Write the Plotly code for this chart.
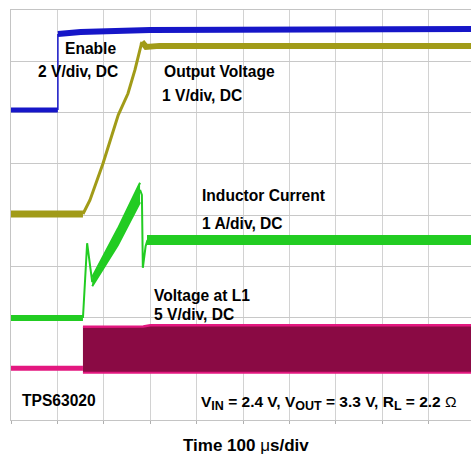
import plotly.graph_objects as go

# ---- data (time in microseconds, 100 us/div) ----
# Enable, 2 V/div
en_low_t = [0, 101]
en_low_v = [0.0, 0.0]
en_edge_t = [101, 101]
en_edge_v = [0.0, 2.96]
en_high_t = [101, 150, 300, 600, 991]
en_high_v = [2.96, 3.04, 3.12, 3.15, 3.16]

# Output voltage, 1 V/div
vo_low_t = [0, 155]
vo_low_v = [0.0, 0.0]
vo_ramp_t = [155, 170, 198, 231, 252, 267, 282]
vo_ramp_v = [0.0, 0.27, 0.98, 1.93, 2.35, 2.81, 3.36]
vo_high_t = [282, 291, 320, 600, 991]
vo_high_v = [3.36, 3.26, 3.28, 3.28, 3.28]

# Inductor current, 1 A/div
il_base_t = [0, 155]
il_base_a = [0.0, 0.0]
il_spike_t = [155, 164, 175]
il_spike_a = [0.0, 1.46, 0.70]
il_ramp_t = [175, 230, 278]
il_ramp_hi = [0.80, 1.74, 2.64]
il_ramp_lo = [0.62, 1.42, 2.26]
il_drop_t = [278, 282, 284, 290, 294]
il_drop_a = [2.50, 2.40, 0.98, 1.40, 1.52]
il_ss_t = [293, 600, 991]
il_ss_a = [1.52, 1.52, 1.52]

# Voltage at L1, 5 V/div
vl_base_t = [0, 155]
vl_base_v = [0.0, 0.0]
vl_sw_t = [155, 285, 300, 991]
vl_sw_hi = [4.05, 4.07, 4.2, 4.2]
vl_sw_lo = [-0.45, -0.45, -0.45, -0.45]

# scope settings: channel ground marker (divisions from bottom) and units per division
ch_zero = {"en": 6.05, "vo": 4.02, "il": 1.99, "vl": 1.01}
ch_scale = {"en": 2.0, "vo": 1.0, "il": 1.0, "vl": 5.0}

N_DIV_Y = 8
X_MAX = 991  # visible part of the 10-division time base

BLUE = "#1616c8"
OLIVE = "#a19b18"
GREEN = "#22cc22"
MAROON = "#8a0a44"
PINK = "#e3177f"


def to_div(values, ch):
    """Scope vertical mapping: channel units -> screen divisions."""
    return [ch_zero[ch] + v / ch_scale[ch] for v in values]


fig = go.Figure()


def line(x, y, ch, color, width, **kw):
    fig.add_trace(go.Scatter(x=x, y=to_div(y, ch), mode="lines",
                             line=dict(color=color, width=width),
                             showlegend=False, hoverinfo="skip", **kw))


# Voltage at L1
line(vl_sw_t, vl_sw_lo, "vl", PINK, 2)
line(vl_sw_t, vl_sw_hi, "vl", PINK, 2.5, fill="tonexty", fillcolor=MAROON)
line(vl_base_t, vl_base_v, "vl", PINK, 5)

# Inductor current
line(il_base_t, il_base_a, "il", GREEN, 6)
line(il_spike_t, il_spike_a, "il", GREEN, 2)
line(il_ramp_t, il_ramp_lo, "il", GREEN, 2)
line(il_ramp_t, il_ramp_hi, "il", GREEN, 2, fill="tonexty", fillcolor=GREEN)
line(il_drop_t, il_drop_a, "il", GREEN, 2)
line(il_ss_t, il_ss_a, "il", GREEN, 10)

# Output voltage
line(vo_low_t, vo_low_v, "vo", OLIVE, 7)
line(vo_ramp_t, vo_ramp_v, "vo", OLIVE, 3)
line(vo_high_t, vo_high_v, "vo", OLIVE, 6)

# Enable
line(en_low_t, en_low_v, "en", BLUE, 5)
line(en_edge_t, en_edge_v, "en", BLUE, 1.5)
line(en_high_t, en_high_v, "en", BLUE, 6)

FONT = "Liberation Sans, Arial, sans-serif"

fig.update_layout(
    width=471, height=455, autosize=False,
    margin=dict(l=11, r=0, t=10, b=35),
    plot_bgcolor="white", paper_bgcolor="white",
    font=dict(family=FONT, size=15, color="black"),
    xaxis=dict(range=[0, X_MAX], dtick=100, tick0=0, showgrid=True,
               gridcolor="#d2d2d2", gridwidth=1,
               showticklabels=False, zeroline=False,
               showline=True, linecolor="#c4c4c4", mirror=True,
               ticks="outside", ticklen=3, tickcolor="#b0b0b0"),
    yaxis=dict(range=[0, N_DIV_Y], dtick=1, tick0=0,
               showgrid=True, gridcolor="#c8c8c8", gridwidth=1,
               showticklabels=False, zeroline=False,
               showline=True, linecolor="#c4c4c4", mirror=True, ticks=""),
)


def px2paper(px, py):
    return (px - 11) / 460.0, (420 - py) / 410.0


FS = 15.6
SUB = "<sub><span style='font-size:12.5px'>%s</span></sub>"
labels = [
    ("Enable", 63, 49),
    ("2 V/div, DC", 36, 71),
    ("Output Voltage", 162, 71),
    ("1 V/div, DC", 160, 96),
    ("Inductor Current", 200, 196),
    ("1 A/div, DC", 200, 223),
    ("Voltage at L1", 152, 295),
    ("5 V/div, DC", 152, 314),
    ("TPS63020", 20, 400),
]
for txt, px, py in labels:
    x, y = px2paper(px, py)
    fig.add_annotation(x=x, y=y, xref="paper", yref="paper", text=txt,
                       showarrow=False, xanchor="left", yanchor="middle",
                       font=dict(family=FONT, size=FS, color="black", weight="bold"))

cond = ("V" + SUB % "IN" + " = 2.4 V, V" + SUB % "OUT" + " = 3.3 V, R" + SUB % "L"
        + " = 2.2 <span style='font-weight:normal'>Ω</span>")
x, y = px2paper(199, 403)
fig.add_annotation(x=x, y=y, xref="paper", yref="paper", text=cond,
                   showarrow=False, xanchor="left", yanchor="middle",
                   font=dict(family=FONT, size=15.5, color="black", weight="bold"))

x, y = px2paper(246, 445)
fig.add_annotation(x=x, y=y, xref="paper", yref="paper",
                   text="Time 100 <span style='font-weight:normal'>μ</span>s/div",
                   showarrow=False, xanchor="center", yanchor="middle",
                   font=dict(family=FONT, size=17, color="black", weight="bold"))

fig.write_html("out.html", config={"displayModeBar": False},
               post_script="document.body.style.margin='0';document.body.style.overflow='hidden';")
